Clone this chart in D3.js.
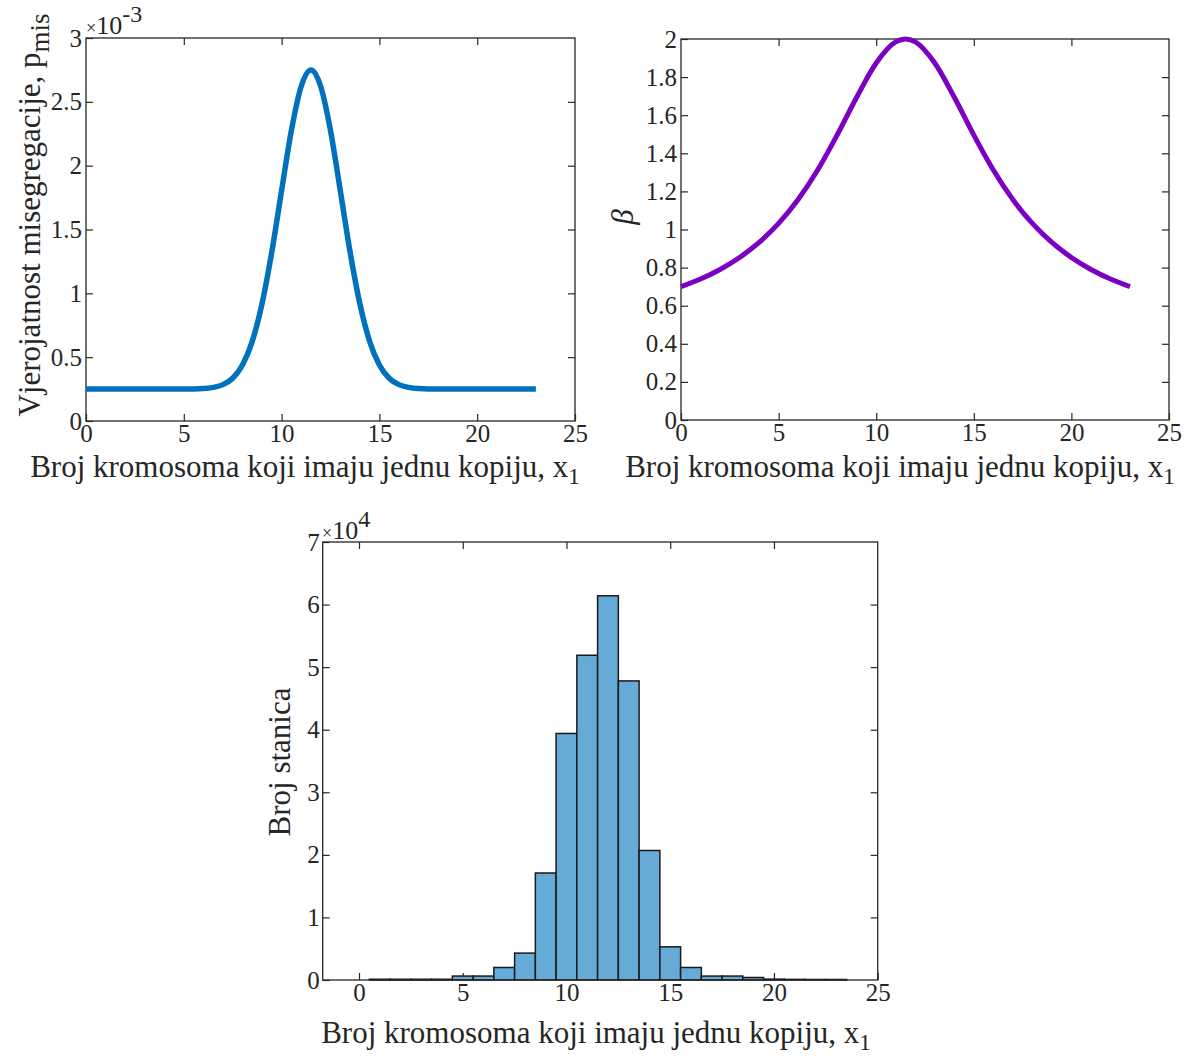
<!DOCTYPE html>
<html>
<head>
<meta charset="utf-8">
<script src="https://cdn.jsdelivr.net/npm/d3@7/dist/d3.min.js"></script>
<style>
  html, body { margin: 0; padding: 0; background: #fff; }
  svg { display: block; }
  text { font-family: "Liberation Serif", "Times New Roman", serif; fill: #262626; }
</style>
</head>
<body>
<script>
// ---- Data ----
const xTicks = [0, 5, 10, 15, 20, 25];

// Panel A: misegregation probability (x 1e-3)
const pmisX = [0,1,2,3,4,5,6,6.5,7,7.5,8,8.5,9,9.5,10,10.5,11,11.5,12,12.5,13,13.5,14,14.5,15,15.5,16,16.5,17,18,19,20,21,22,23];
const pmisY = [0.25,0.25,0.25,0.25,0.25,0.25,0.254,0.263,0.285,0.335,0.439,0.624,0.919,1.325,1.805,2.275,2.62,2.75,2.62,2.275,1.805,1.325,0.919,0.624,0.439,0.335,0.285,0.263,0.254,0.25,0.25,0.25,0.25,0.25,0.25];
const pmisTicks = [0, 0.5, 1, 1.5, 2, 2.5, 3];

// Panel B: beta
const betaX = [0,1,2,3,4,5,6,7,8,9,10,11,11.5,12,13,14,15,16,17,18,19,20,21,22,23];
const betaY = [0.700,0.740,0.790,0.853,0.932,1.032,1.157,1.312,1.496,1.694,1.874,1.985,2.0,1.985,1.874,1.694,1.496,1.312,1.157,1.032,0.932,0.853,0.790,0.740,0.700];
const betaTicks = [0, 0.2, 0.4, 0.6, 0.8, 1, 1.2, 1.4, 1.6, 1.8, 2];

// Panel C: histogram (x 1e4)
const binCenters = [1,2,3,4,5,6,7,8,9,10,11,12,13,14,15,16,17,18,19,20,21,22,23];
const binCounts = [0.012,0.012,0.012,0.012,0.063,0.063,0.2,0.43,1.71,3.94,5.19,6.14,4.78,2.07,0.53,0.2,0.063,0.063,0.04,0.014,0.01,0.008,0.008];
const histTicks = [0, 1, 2, 3, 4, 5, 6, 7];

const xLabel = "Broj kromosoma koji imaju jednu kopiju, x";

// ---- Drawing ----
const W = 1191, H = 1057;
const svg = d3.select("body").append("svg").attr("width", W).attr("height", H);
svg.append("rect").attr("width", W).attr("height", H).attr("fill", "#fff");

const TICK_FONT = 25, LABEL_FONT = 31, TL = 7;
const fmt = d => String(+d.toFixed(2));

function frame(box, xDom, yDom, yTicks, ypad) {
  const x = d3.scaleLinear().domain(xDom).range([box.l, box.r]);
  const y = d3.scaleLinear().domain(yDom).range([box.b, box.t]);
  const g = svg.append("g");
  g.append("g").attr("transform", `translate(0,${box.b})`)
    .call(d3.axisBottom(x).tickValues(xTicks).tickSize(-TL).tickPadding(3).tickFormat(fmt));
  g.append("g").attr("transform", `translate(0,${box.t})`)
    .call(d3.axisTop(x).tickValues(xTicks.filter(v => v > xDom[0] && v < xDom[1])).tickSize(-TL).tickFormat(""));
  g.append("g").attr("transform", `translate(${box.l},0)`)
    .call(d3.axisLeft(y).tickValues(yTicks).tickSize(-TL).tickPadding(ypad).tickFormat(fmt));
  g.append("g").attr("transform", `translate(${box.r},0)`)
    .call(d3.axisRight(y).tickValues(yTicks.filter(v => v > yDom[0] && v < yDom[1])).tickSize(-TL).tickFormat(""));
  g.selectAll(".domain").remove();
  g.selectAll(".tick line").attr("stroke", "#262626").attr("stroke-width", 1.2);
  g.selectAll(".tick text").attr("font-size", TICK_FONT).attr("fill", "#262626")
    .attr("font-family", "Liberation Serif, serif");
  return { x, y, g };
}

function border(box) {
  svg.append("rect").attr("x", box.l).attr("y", box.t)
    .attr("width", box.r - box.l).attr("height", box.b - box.t)
    .attr("fill", "none").attr("stroke", "#262626").attr("stroke-width", 1.3);
}

function xAxisLabel(cx, baseline) {
  const t = svg.append("text").attr("x", cx).attr("y", baseline)
    .attr("text-anchor", "middle").attr("font-size", LABEL_FONT);
  t.append("tspan").text(xLabel);
  t.append("tspan").attr("font-size", 23).attr("dy", 7).text("1");
}

function exponent(x, y, sup) {
  const e = svg.append("text").attr("x", x).attr("y", y);
  e.append("tspan").attr("font-size", 18).text("×");
  e.append("tspan").attr("font-size", 26).text("10");
  e.append("tspan").attr("font-size", 24).attr("dy", -12).text(sup);
}

// Panel A
const boxA = { l: 86, r: 575, t: 38, b: 421 };
const A = frame(boxA, [0, 25], [0, 3], pmisTicks, 4);
border(boxA);
svg.append("path")
  .datum(pmisX.map((v, i) => [v, pmisY[i]]))
  .attr("fill", "none").attr("stroke", "#0072BD").attr("stroke-width", 5.5)
  .attr("d", d3.line().x(d => A.x(d[0])).y(d => A.y(d[1])).curve(d3.curveMonotoneX));
xAxisLabel(305, 477);
{
  const t = svg.append("text").attr("transform", "translate(40,215) rotate(-90)")
    .attr("text-anchor", "middle").attr("font-size", LABEL_FONT);
  t.append("tspan").text("Vjerojatnost misegregacije, p");
  t.append("tspan").attr("font-size", 27).attr("dy", 9).text("mis");
}
exponent(86, 34, "-3");

// Panel B
const boxB = { l: 681, r: 1169, t: 39, b: 420 };
const B = frame(boxB, [0, 25], [0, 2], betaTicks, 4);
border(boxB);
svg.append("path")
  .datum(betaX.map((v, i) => [v, betaY[i]]))
  .attr("fill", "none").attr("stroke", "#7B00C4").attr("stroke-width", 5)
  .attr("d", d3.line().x(d => B.x(d[0])).y(d => B.y(d[1])).curve(d3.curveMonotoneX));
xAxisLabel(900, 477);
svg.append("text").attr("transform", "translate(633,217) rotate(-90)")
  .attr("text-anchor", "middle").attr("font-size", LABEL_FONT).attr("font-style", "italic").text("β");

// Panel C
const boxC = { l: 322.7, r: 877.7, t: 542, b: 980 };
const C = frame(boxC, [-1.75, 25], [0, 7], histTicks, 3);
svg.append("g").selectAll("rect").data(binCenters.map((c, i) => [c, binCounts[i]])).join("rect")
  .attr("x", d => C.x(d[0] - 0.5)).attr("width", d => C.x(d[0] + 0.5) - C.x(d[0] - 0.5))
  .attr("y", d => C.y(d[1])).attr("height", d => C.y(0) - C.y(d[1]))
  .attr("fill", "#66AAD7").attr("stroke", "#1a1a1a").attr("stroke-width", 1.5);
border(boxC);
xAxisLabel(596, 1043);
svg.append("text").attr("transform", "translate(290,762) rotate(-90)")
  .attr("text-anchor", "middle").attr("font-size", LABEL_FONT).text("Broj stanica");
exponent(322, 539, "4");
</script>
</body>
</html>
